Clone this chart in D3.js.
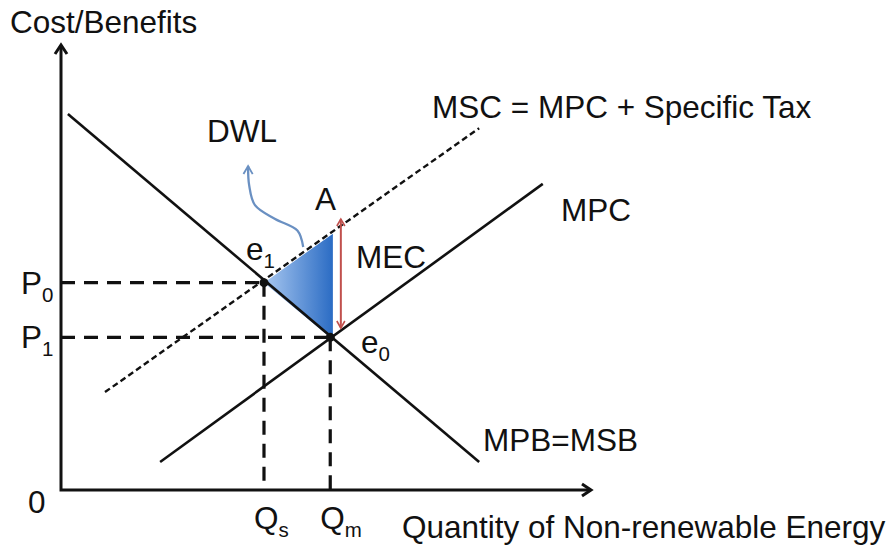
<!DOCTYPE html>
<html>
<head>
<meta charset="utf-8">
<script src="https://cdn.jsdelivr.net/npm/d3@7"></script>
<style>
  html, body { margin: 0; padding: 0; background: #fff; }
  svg text { font-family: "Liberation Sans", Arial, Helvetica, sans-serif; fill: #111; }
</style>
</head>
<body>
<svg id="chart" width="893" height="547"></svg>
<script>
// ---- data (quantity, price) in chart units ----
const curveNames = ["MPB=MSB", "MPC", "MSC = MPC + Specific Tax"];
const mpbQ = [1.3, 78.9];   const mpbP = [84.5, 6.3];
const mpcQ = [18.7, 90.9];  const mpcP = [6.3, 68.8];
const mscQ = [8.3, 78.9];   const mscP = [22.0, 81.3];
const eqNames = ["e1", "e0"];
const eqQ = [38.3, 50.8];
const eqP = [46.6, 34.3];
const pointA = [51.3, 57.6];          // top of DWL triangle on MSC
const mecQ = 52.8; const mecP = [60.9, 36.4];
const dwlArrowQ = [45.7, 44.6, 40.4, 36.6, 35.5, 35.3];
const dwlArrowP = [54.6, 58.3, 60.9, 64.0, 68.5, 72.8];
const priceTicks = ["P0", "P1"];
const qtyTicks = ["Qs", "Qm"];

const svg = d3.select("#chart");
const x = d3.scaleLinear().domain([0, 100]).range([61, 591]);
const y = d3.scaleLinear().domain([0, 100]).range([490, 45]);

const defs = svg.append("defs");
const grad = defs.append("linearGradient").attr("id", "dwlGrad")
  .attr("x1", "0%").attr("x2", "100%").attr("y1", "0%").attr("y2", "0%");
grad.append("stop").attr("offset", "0%").attr("stop-color", "#a9c8f0");
grad.append("stop").attr("offset", "100%").attr("stop-color", "#2b6cc4");

defs.append("marker").attr("id", "redHead").attr("viewBox", "0 0 10 10")
  .attr("refX", 8).attr("refY", 5).attr("markerWidth", 5).attr("markerHeight", 5)
  .attr("orient", "auto-start-reverse")
  .append("path").attr("d", "M1,1 L8,5 L1,9").attr("fill", "none")
  .attr("stroke", "#c0504d").attr("stroke-width", 1.6);
defs.append("marker").attr("id", "blueHead").attr("viewBox", "0 0 10 10")
  .attr("refX", 8).attr("refY", 5).attr("markerWidth", 5).attr("markerHeight", 5)
  .attr("orient", "auto")
  .append("path").attr("d", "M1,1 L8,5 L1,9").attr("fill", "none")
  .attr("stroke", "#6a90c2").attr("stroke-width", 1.6);

const line = d3.line().x(d => x(d[0])).y(d => y(d[1]));

// DWL triangle
svg.append("path")
  .attr("d", line([[eqQ[0], eqP[0]], pointA, [pointA[0], eqP[1]], [eqQ[1], eqP[1]]]) + "Z")
  .attr("fill", "url(#dwlGrad)");

// dashed guides
const guideStyle = s => s.attr("stroke", "#111").attr("stroke-width", 3.2)
  .attr("stroke-dasharray", "14,9").attr("fill", "none");
eqQ.forEach((q, i) => {
  svg.append("path").attr("d", line([[0, eqP[i]], [q, eqP[i]]])).call(guideStyle);
  svg.append("path").attr("d", line([[q, eqP[i]], [q, 0]])).call(guideStyle);
});

// curves
svg.append("path").attr("d", line([[mpbQ[0], mpbP[0]], [mpbQ[1], mpbP[1]]]))
  .attr("stroke", "#111").attr("stroke-width", 2.6).attr("fill", "none");
svg.append("path").attr("d", line([[mpcQ[0], mpcP[0]], [mpcQ[1], mpcP[1]]]))
  .attr("stroke", "#111").attr("stroke-width", 2.6).attr("fill", "none");
svg.append("path").attr("d", line([[mscQ[0], mscP[0]], [mscQ[1], mscP[1]]]))
  .attr("stroke", "#111").attr("stroke-width", 2.4).attr("stroke-dasharray", "6,3.5").attr("fill", "none");

// MEC arrow
svg.append("path").attr("d", line([[mecQ, mecP[1]], [mecQ, mecP[0]]]))
  .attr("stroke", "#c0504d").attr("stroke-width", 2).attr("fill", "none")
  .attr("marker-start", "url(#redHead)").attr("marker-end", "url(#redHead)");

// DWL curved arrow
svg.append("path")
  .attr("d", d3.line().x(d => x(d[0])).y(d => y(d[1])).curve(d3.curveCatmullRom)(dwlArrowQ.map((q, i) => [q, dwlArrowP[i]])))
  .attr("stroke", "#6a90c2").attr("stroke-width", 2.3).attr("fill", "none")
  .attr("marker-end", "url(#blueHead)");

// equilibrium dots
eqQ.forEach((q, i) => {
  svg.append("circle").attr("cx", x(q)).attr("cy", y(eqP[i])).attr("r", 4.5).attr("fill", "#111");
});

// axes
svg.append("path").attr("d", line([[0, 100], [0, 0], [100, 0]]))
  .attr("stroke", "#111").attr("stroke-width", 3).attr("fill", "none");
svg.append("path").attr("d", `M${x(0) - 6},${y(100) + 9} L${x(0)},${y(100)} L${x(0) + 6},${y(100) + 9}`)
  .attr("stroke", "#111").attr("stroke-width", 3).attr("fill", "none");
svg.append("path").attr("d", `M${x(100) - 9},${y(0) - 6} L${x(100)},${y(0)} L${x(100) - 9},${y(0) + 6}`)
  .attr("stroke", "#111").attr("stroke-width", 3).attr("fill", "none");

// text helpers
const FS = 31.5, SUB = 20.5;
function label(txt, px, py, sub) {
  const t = svg.append("text").attr("x", px).attr("y", py).attr("font-size", FS).text(txt);
  if (sub) t.append("tspan").attr("font-size", SUB).attr("dy", 8).text(sub);
  return t;
}
label("Cost/Benefits", 10, 33);
label("0", 28, 513);
label("Quantity of Non-renewable Energy", 402, 538);
priceTicks.forEach((p, i) => label(p[0], 21, y(eqP[i]) + 11, p.slice(1)));
qtyTicks.forEach((q, i) => label(q[0], x(eqQ[i]) - 10, 529, q.slice(1)));
label(curveNames[2], 432, 118);
label(curveNames[1], 561, 221);
label(curveNames[0], 483, 451);
label("MEC", 356, 268);
label("A", 315, 210);
label("DWL", 207, 142);
label(eqNames[0][0], 246, 260, eqNames[0].slice(1));
label(eqNames[1][0], 361, 353, eqNames[1].slice(1));
</script>
</body>
</html>
